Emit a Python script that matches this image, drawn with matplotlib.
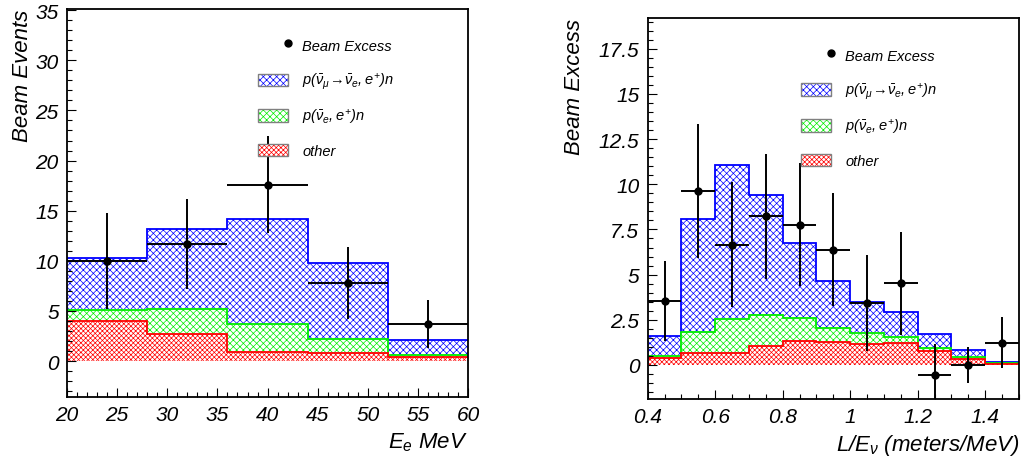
import numpy as np
import matplotlib
matplotlib.use("Agg")
import matplotlib.pyplot as plt
from matplotlib.patches import Patch, Rectangle
from matplotlib.lines import Line2D
from matplotlib.legend_handler import HandlerTuple, HandlerPatch, HandlerLine2D
from matplotlib.ticker import MultipleLocator

plt.rcParams['font.family'] = ['Liberation Sans', 'DejaVu Sans']
plt.rcParams['font.style'] = 'italic'
plt.rcParams['mathtext.fontset'] = 'custom'
plt.rcParams['mathtext.it'] = 'Liberation Sans:italic'
plt.rcParams['mathtext.rm'] = 'Liberation Sans:italic'
plt.rcParams['mathtext.sf'] = 'Liberation Sans:italic'
plt.rcParams['hatch.linewidth'] = 0.5

# --- linke: Energie (E_e) ---
e_edges = [20, 28, 36, 44, 52, 60]
e_other = [3.95, 2.7, 0.95, 0.8, 0.4]
e_nue = [5.05, 5.2, 3.7, 2.2, 0.62]      # kumulativ (other + nue)
e_osc = [10.25, 13.2, 14.2, 9.75, 2.1]   # kumulativ (alles)
e_x = [24, 32, 40, 48, 56]
e_y = [10.0, 11.7, 17.6, 7.8, 3.7]
e_yerr = [4.8, 4.5, 4.85, 3.6, 2.4]
e_xerr = [4, 4, 4, 4, 4]

# --- rechts: L/E ---
l_edges = [0.4, 0.5, 0.6, 0.7, 0.8, 0.9, 1.0, 1.1, 1.2, 1.3, 1.4, 1.5]
l_other = [0.37, 0.66, 0.65, 1.03, 1.31, 1.25, 1.18, 1.2, 0.8, 0.33, 0.05]
l_nue = [0.52, 1.8, 2.55, 2.77, 2.58, 2.03, 1.75, 1.57, 0.92, 0.42, 0.09]
l_osc = [1.62, 8.09, 11.08, 9.41, 6.74, 4.65, 3.47, 2.92, 1.72, 0.83, 0.18]
l_x = [0.45, 0.55, 0.65, 0.75, 0.85, 0.95, 1.05, 1.15, 1.25, 1.35, 1.45]
l_y = [3.53, 9.62, 6.66, 8.23, 7.77, 6.39, 3.42, 4.52, -0.54, 0.02, 1.24]
l_yerr = [2.2, 3.7, 3.45, 3.45, 3.4, 3.15, 2.65, 2.85, 1.7, 1.0, 1.4]
l_xerr = [0.05] * 11

labels = ['Beam Excess',
          r'$p(\bar{\nu}_{\mu}\!\rightarrow\!\bar{\nu}_{e},e^{+})n$',
          r'$p(\bar{\nu}_{e},e^{+})n$',
          'other']

BLUE = '#0000ff'
GREEN = '#00ee00'
RED = '#ff0000'


class RightMarker(HandlerLine2D):
    # ROOT setzt den Marker ans rechte Ende des Legendenfeldes
    def get_xdata(self, legend, xdescent, ydescent, width, height, fontsize):
        xr = width - xdescent
        return [xr, xr], [xr]


def small_box(legend, orig_handle, xdescent, ydescent, width, height, fontsize):
    h = 0.85 * fontsize
    return Rectangle((-xdescent, -ydescent + (height - h) / 2), width, h)


def draw_panel(ax, edges, other, nue, osc, x, y, xerr, yerr):
    for vals, col, hatch in [(osc, BLUE, 'xxxxx'), (nue, GREEN, 'xxxxx'), (other, RED, 'xxxxxxx')]:
        ax.stairs(vals, edges, fill=True, facecolor='white', edgecolor=col,
                  hatch=hatch, linewidth=0)
        ax.stairs(vals, edges, color=col, linewidth=1.3, baseline=None)
    ax.errorbar(x, y, xerr=xerr, yerr=yerr, fmt='o', color='black',
                markersize=5, elinewidth=1.4, capsize=0, zorder=5)
    ax.tick_params(which='both', direction='in', top=False, right=False,
                   labelsize=15, width=0.8)
    ax.tick_params(which='major', length=6.5, pad=6)
    ax.tick_params(which='minor', length=3.3)
    for s in ax.spines.values():
        s.set_linewidth(1.3)


def make_legend(ax, anchor):
    h_pt = Line2D([], [], marker='o', color='black', linestyle='none', markersize=5)
    handles = [h_pt]
    for col, hatch in [(BLUE, 'xxxxx'), (GREEN, 'xxxxx'), (RED, 'xxxxxxx')]:
        hp = Patch(facecolor='white', edgecolor=col, hatch=hatch, linewidth=0)
        frame = Patch(facecolor='none', edgecolor='gray', linewidth=1.0)
        handles.append((hp, frame))
    ax.legend(handles, labels, loc='upper left', bbox_to_anchor=anchor,
              frameon=False, fontsize=10.5, labelspacing=1.0, borderpad=0,
              borderaxespad=0, handlelength=2.05, handleheight=1.7,
              handletextpad=1.0,
              handler_map={tuple: HandlerTuple(ndivide=1),
                           Patch: HandlerPatch(patch_func=small_box),
                           Line2D: RightMarker()})


fig = plt.figure(figsize=(10.22, 4.64), dpi=100)

ax1 = fig.add_axes([0.0656, 0.142, 0.3924, 0.836])
draw_panel(ax1, e_edges, e_other, e_nue, e_osc, e_x, e_y, e_xerr, e_yerr)
ax1.set_xlim(20, 60)
ax1.set_ylim(-3.6, 35.1)
ax1.xaxis.set_major_locator(MultipleLocator(5))
ax1.xaxis.set_minor_locator(MultipleLocator(1))
ax1.yaxis.set_major_locator(MultipleLocator(5))
ax1.yaxis.set_minor_locator(MultipleLocator(1))
ax1.set_ylabel('Beam Events', fontsize=16, loc='top', labelpad=2)
ax1.set_xlabel(r'$E_e$ MeV', fontsize=16, loc='right', labelpad=4)
make_legend(ax1, (0.476, 0.932))

ax2 = fig.add_axes([0.6337, 0.138, 0.3633, 0.821])
draw_panel(ax2, l_edges, l_other, l_nue, l_osc, l_x, l_y, l_xerr, l_yerr)
ax2.set_xlim(0.4, 1.5)
ax2.set_ylim(-1.88, 19.2)
ax2.xaxis.set_major_locator(MultipleLocator(0.2))
ax2.xaxis.set_minor_locator(MultipleLocator(0.05))
ax2.yaxis.set_major_locator(MultipleLocator(2.5))
ax2.yaxis.set_minor_locator(MultipleLocator(0.5))
ax2.xaxis.set_major_formatter(plt.FuncFormatter(lambda v, p: f'{v:g}'))
ax2.yaxis.set_major_formatter(plt.FuncFormatter(lambda v, p: f'{v:g}'))
ax2.set_ylabel('Beam Excess', fontsize=16, loc='top', labelpad=10)
ax2.set_xlabel(r'$L/E_{\nu}$ (meters/MeV)', fontsize=16, loc='right', labelpad=4)
make_legend(ax2, (0.412, 0.928))

fig.savefig('out.png', dpi=100)
